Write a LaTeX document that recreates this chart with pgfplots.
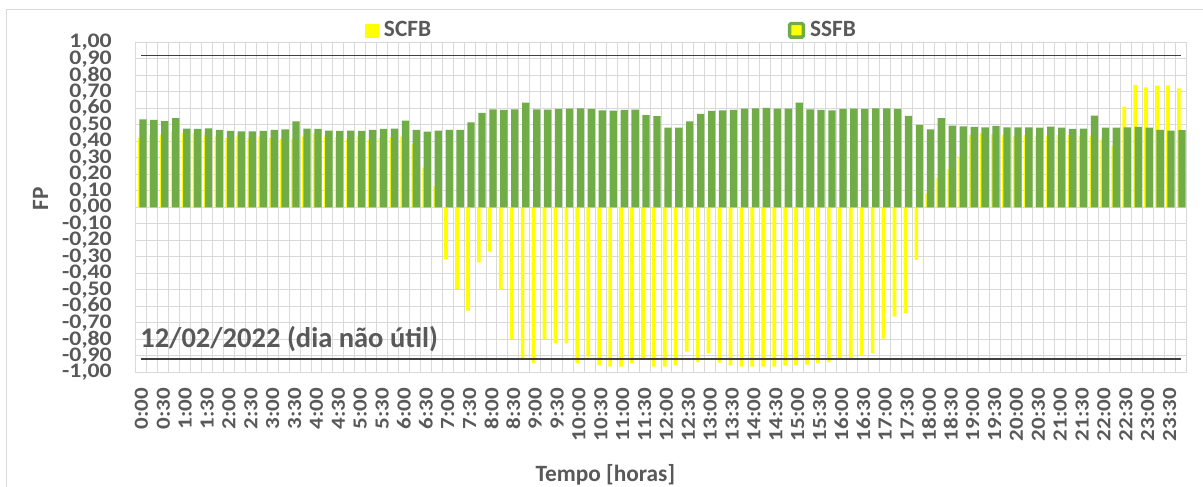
\documentclass[border=0pt]{standalone}
\usepackage{pgfplots}
\pgfplotsset{compat=1.18}
\usepackage{pgfplotstable}
\usepackage{fontspec}
\setmainfont{Carlito}
\newfontfamily\xtfont[FakeStretch=1.15]{Carlito}
\newfontfamily\ytfont[FakeStretch=1.15]{Carlito}
\definecolor{tg}{HTML}{595959}
\definecolor{gr}{HTML}{70AD47}
\definecolor{yl}{HTML}{FFFF00}
\definecolor{gl}{HTML}{D9D9D9}
\pgfplotstableread{
x scfb ssfb
0 0.42 0.533
1 0.44 0.53
2 0.44 0.523
3 0.46 0.54
4 0.45 0.477
5 0.45 0.475
6 0.44 0.479
7 0.43 0.47
8 0.42 0.463
9 0.435 0.46
10 0.42 0.46
11 0.43 0.463
12 0.42 0.469
13 0.415 0.473
14 0.415 0.521
15 0.43 0.477
16 0.45 0.475
17 0.43 0.465
18 0.425 0.463
19 0.415 0.465
20 0.43 0.463
21 0.41 0.47
22 0.42 0.475
23 0.425 0.477
24 0.43 0.525
25 0.385 0.47
26 0.24 0.459
27 0.13 0.465
28 -0.313 0.47
29 -0.497 0.47
30 -0.626 0.515
31 -0.335 0.572
32 -0.269 0.594
33 -0.497 0.59
34 -0.798 0.594
35 -0.923 0.634
36 -0.945 0.594
37 -0.80 0.592
38 -0.824 0.596
39 -0.824 0.598
40 -0.943 0.6
41 -0.905 0.596
42 -0.958 0.588
43 -0.966 0.586
44 -0.966 0.59
45 -0.945 0.592
46 -0.925 0.558
47 -0.966 0.552
48 -0.966 0.483
49 -0.958 0.483
50 -0.875 0.521
51 -0.939 0.566
52 -0.885 0.584
53 -0.941 0.588
54 -0.958 0.59
55 -0.966 0.598
56 -0.966 0.6
57 -0.966 0.602
58 -0.966 0.598
59 -0.96 0.598
60 -0.958 0.634
61 -0.954 0.594
62 -0.945 0.59
63 -0.94 0.588
64 -0.925 0.596
65 -0.919 0.598
66 -0.90 0.596
67 -0.885 0.6
68 -0.796 0.6
69 -0.663 0.596
70 -0.64 0.554
71 -0.319 0.499
72 0.085 0.473
73 0.18 0.541
74 0.232 0.495
75 0.307 0.491
76 0.438 0.487
77 0.448 0.485
78 0.444 0.493
79 0.438 0.485
80 0.432 0.485
81 0.438 0.485
82 0.432 0.483
83 0.434 0.489
84 0.438 0.483
85 0.438 0.475
86 0.432 0.477
87 0.434 0.556
88 0.412 0.483
89 0.374 0.483
90 0.61 0.485
91 0.741 0.487
92 0.727 0.483
93 0.737 0.469
94 0.739 0.465
95 0.721 0.467
}\data

\begin{document}
\begin{tikzpicture}
\useasboundingbox (-102pt,-85.275pt) rectangle (800.25pt,279.225pt);
\fill[white] (-102pt,-85.275pt) rectangle (800.25pt,279.225pt);
\draw[gl, line width=0.75pt] (-97.1pt,-90pt) -- (-97.1pt,272.25pt) -- (805pt,272.25pt);
\begin{axis}[
  at={(0,0)}, anchor=south west,
  scale only axis, width=787.5pt, height=247.5pt,
  xmin=-0.5, xmax=95.5, ymin=-1, ymax=1,
  axis line style={gl, line width=0.75pt},
  xtick={0,2,...,94},
  xticklabels={0:00,0:30,1:00,1:30,2:00,2:30,3:00,3:30,4:00,4:30,5:00,5:30,6:00,6:30,7:00,7:30,8:00,8:30,9:00,9:30,10:00,10:30,11:00,11:30,12:00,12:30,13:00,13:30,14:00,14:30,15:00,15:30,16:00,16:30,17:00,17:30,18:00,18:30,19:00,19:30,20:00,20:30,21:00,21:30,22:00,22:30,23:00,23:30},
  minor xtick={-0.5,0.5,...,95.5},
  xminorgrids, ymajorgrids, xmajorgrids=false,
  grid style={gl, line width=0.75pt},
  minor grid style={gl, line width=0.75pt},
  major tick length=0pt, minor tick length=0pt,
  ytick={-1,-0.9,-0.8,-0.7,-0.6,-0.5,-0.4,-0.3,-0.2,-0.1,0,0.1,0.2,0.3,0.4,0.5,0.6,0.7,0.8,0.9,1},
  yticklabel style={/pgf/number format/.cd, fixed, fixed zerofill, precision=2, use comma, assume math mode=true, /tikz/.cd, font=\ytfont\fontsize{15.5}{15.5}\selectfont\bfseries, text=tg, anchor=east, inner sep=0pt, xshift=-18pt},
  xticklabel style={yshift=-11.8pt, rotate=90, anchor=east, inner sep=0pt, font=\xtfont\fontsize{15}{15}\selectfont\bfseries, text=tg},
  xlabel={Tempo [horas]},
  xlabel style={at={(axis description cs:0.447,-0.312)}, anchor=center, font=\fontsize{17.5}{17.5}\selectfont\bfseries, text=tg},
  ylabel={FP},
  ylabel style={at={(axis description cs:-0.0909,0.525)}, anchor=center, font=\fontsize{17.5}{17.5}\selectfont\bfseries, text=tg},
  legend style={at={(axis description cs:0.2181,1.0364)}, anchor=west, draw=none, fill=none, inner sep=0pt, outer sep=0pt,
    font=\fontsize{17.5}{17.5}\selectfont\bfseries, text=tg, nodes={inner sep=0pt},
    /tikz/every odd column/.append style={column sep=3.75pt},
    /tikz/every even column/.append style={column sep=267.6pt}},
  legend columns=2,
]
\addplot[ybar, bar width=2.75pt, bar shift=-1.25pt, fill=yl, draw=none,
  legend image code/.code={\fill[yl] (0pt,-5.7pt) rectangle (10.5pt,4.8pt);}]
  table[x=x, y=scfb] {\data};
\addlegendentry{SCFB}
\addplot[ybar, bar width=5.5pt, bar shift=1.1pt, fill=gr, draw=none,
  legend image code/.code={\draw[gr, fill=yl, line width=2.6pt, rounded corners=1pt] (1.3pt,-5.1pt) rectangle (11.5pt,5.1pt);}]
  table[x=x, y=ssfb] {\data};
\addlegendentry{SSFB}
\addplot[forget plot, color=black!75, line width=1pt] coordinates {(0,0.92) (95,0.92)};
\addplot[forget plot, color=black!75, line width=1pt] coordinates {(0,-0.92) (95,-0.92)};
\node[anchor=west, inner sep=0pt, font=\fontsize{21.4}{21.4}\selectfont\bfseries, text=tg] at (axis cs:-0.13,-0.80) {12/02/2022 (dia não útil)};
\end{axis}
\end{tikzpicture}
\end{document}
